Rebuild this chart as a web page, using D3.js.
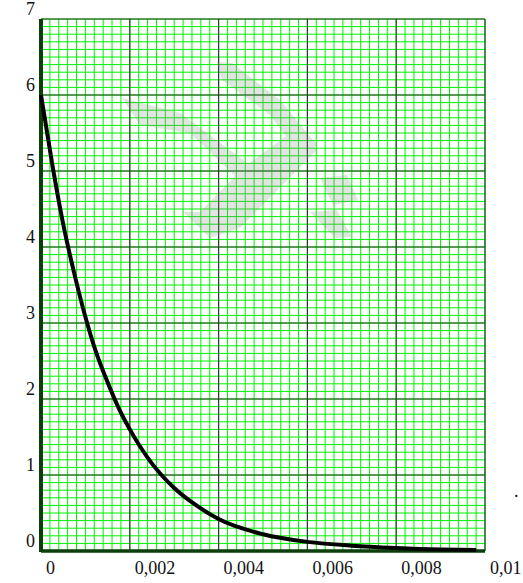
<!DOCTYPE html>
<html>
<head>
<meta charset="utf-8">
<script src="https://cdn.jsdelivr.net/npm/d3@7"></script>
<style>
  body { margin: 0; background: #fff; }
  svg { display: block; }
  .lbl { font-family: "Liberation Serif", "DejaVu Serif", serif; font-size: 18px; fill: #111; }
</style>
</head>
<body>
<div id="chart"></div>
<script>
// values
const xData = [0, 0.00025, 0.0005, 0.00075, 0.001, 0.00125, 0.0015, 0.00175, 0.002, 0.0025,
               0.003, 0.0035, 0.004, 0.005, 0.006, 0.007, 0.008, 0.009, 0.0098];
const yData = [6, 5.1, 4.3, 3.65, 3.08, 2.6, 2.22, 1.88, 1.6, 1.15,
               0.83, 0.6, 0.42, 0.22, 0.12, 0.07, 0.04, 0.02, 0.012];
const xTicks = [0, 0.002, 0.004, 0.006, 0.008, 0.01];
const xTickLabels = ['0', '0,002', '0,004', '0,006', '0,008', '0,01'];
const yTicks = [0, 1, 2, 3, 4, 5, 6, 7];
const yTickLabels = ['0', '1', '2', '3', '4', '5', '6', '7'];

const W = 523, H = 583;
const svg = d3.select('#chart').append('svg')
    .attr('width', W)
    .attr('height', H);

const x = d3.scaleLinear().domain([0, 0.01]).range([41, 485]);
const y = d3.scaleLinear().domain([0, 7]).range([551, 19]);

// minor grid
const xMinor = d3.range(0, 51).map(i => i * 0.0002);
const yMinor = d3.range(0, 71).map(i => i / 10);
const grid = svg.append('g');
grid.selectAll('line.vx').data(xMinor).enter().append('line')
    .attr('x1', d => x(d)).attr('x2', d => x(d))
    .attr('y1', y(7)).attr('y2', y(0))
    .attr('stroke', '#00f000').attr('stroke-width', 1);
grid.selectAll('line.hy').data(yMinor).enter().append('line')
    .attr('x1', x(0)).attr('x2', x(0.01))
    .attr('y1', d => y(d)).attr('y2', d => y(d))
    .attr('stroke', '#00f000').attr('stroke-width', 1);

// major grid
const major = svg.append('g');
major.selectAll('line.mx').data(xTicks).enter().append('line')
    .attr('x1', d => x(d)).attr('x2', d => x(d))
    .attr('y1', y(7)).attr('y2', y(0))
    .attr('stroke', '#2d3d2d').attr('stroke-width', 1.2);
major.selectAll('line.my').data(yTicks).enter().append('line')
    .attr('x1', x(0)).attr('x2', x(0.01))
    .attr('y1', d => y(d)).attr('y2', d => y(d))
    .attr('stroke', '#2d3d2d').attr('stroke-width', 1.2);

// watermark (faint grey strokes over the grid)
const wm = svg.append('g').attr('fill', '#8c8c8c').attr('opacity', 0.24);
[
  [[122, 98], [180, 113], [250, 165], [237, 178], [190, 133], [140, 125]],
  [[217, 62], [232, 63], [280, 100], [317, 145], [300, 155], [270, 115], [222, 80]],
  [[183, 212], [210, 238], [240, 228], [317, 150], [297, 128], [243, 168], [200, 212]],
  [[320, 178], [347, 175], [358, 200], [333, 205]],
  [[310, 212], [337, 210], [352, 237], [335, 238]]
].forEach(p => {
  wm.append('path').attr('d', d3.line()(p) + 'Z');
});

// thick axes
svg.append('line')
    .attr('x1', x(0)).attr('x2', x(0))
    .attr('y1', y(7)).attr('y2', y(0) + 1)
    .attr('stroke', '#0a3f0a').attr('stroke-width', 4);
svg.append('line')
    .attr('x1', x(0)).attr('x2', x(0.01))
    .attr('y1', y(0)).attr('y2', y(0))
    .attr('stroke', '#0a3f0a').attr('stroke-width', 3.5);

// curve
const line = d3.line()
    .x((d, i) => x(xData[i]))
    .y(d => y(d))
    .curve(d3.curveMonotoneX);
svg.append('path')
    .datum(yData)
    .attr('d', line)
    .attr('fill', 'none')
    .attr('stroke', '#000')
    .attr('stroke-width', 4);

// tick labels
svg.selectAll('text.xl').data(xTicks).enter().append('text')
    .attr('class', 'lbl')
    .attr('x', d => x(d) + 5)
    .attr('y', y(0) + 23)
    .attr('text-anchor', 'start')
    .text((d, i) => xTickLabels[i]);
svg.selectAll('text.yl').data(yTicks).enter().append('text')
    .attr('class', 'lbl')
    .attr('x', 26)
    .attr('y', d => y(d) - 4.5)
    .attr('text-anchor', 'start')
    .text((d, i) => yTickLabels[i]);

// stray dot at the right
svg.append('text')
    .attr('class', 'lbl')
    .attr('x', 514)
    .attr('y', 497)
    .text('.');
</script>
</body>
</html>
